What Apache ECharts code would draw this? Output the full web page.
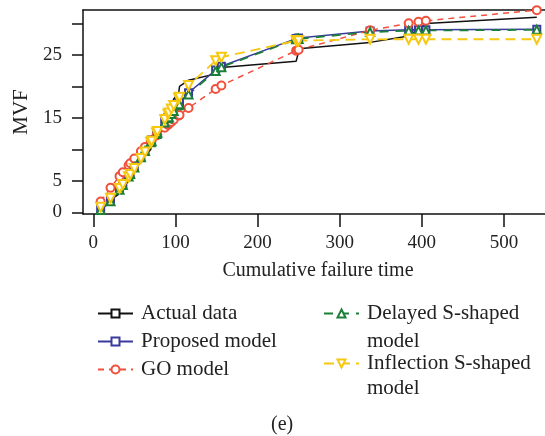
<!DOCTYPE html>
<html>
<head>
<meta charset="utf-8">
<script src="https://cdn.jsdelivr.net/npm/echarts@6/dist/echarts.min.js"></script>
<style>html,body{margin:0;padding:0;background:#fff}#c{width:545px;height:436px}</style>
</head>
<body>
<div id="c"></div>
<script>
const times = [9, 21, 32, 36, 43, 45, 50, 58, 63, 70, 71, 77, 78, 87, 91, 92, 95, 98, 104, 105, 116, 149, 156, 247, 249, 250, 337, 384, 396, 405, 540];
const actualData = [1, 2, 3, 4, 5, 6, 7, 8, 9, 10, 11, 12, 13, 14, 15, 16, 17, 18, 19, 20, 21, 22, 23, 24, 25, 26, 27, 28, 29, 30, 31];
const proposedModel = [0.6, 2.1, 3.9, 4.6, 5.9, 6.3, 7.3, 8.9, 9.9, 11.3, 11.5, 12.6, 12.8, 14.4, 15.1, 15.3, 15.8, 16.3, 17.3, 17.5, 19.0, 22.6, 23.2, 27.6, 27.6, 27.7, 28.8, 29.0, 29.0, 29.0, 29.1];
const goModel = [1.74, 3.91, 5.77, 6.40, 7.51, 7.81, 8.55, 9.71, 10.41, 11.33, 11.46, 12.23, 12.35, 13.45, 13.91, 14.04, 14.37, 14.71, 15.38, 15.47, 16.59, 19.60, 20.16, 25.69, 25.79, 25.83, 28.91, 30.03, 30.26, 30.43, 32.12];
const delayedS = [0.38, 1.77, 3.61, 4.36, 5.72, 6.12, 7.13, 8.75, 9.75, 11.13, 11.32, 12.46, 12.65, 14.27, 14.95, 15.13, 15.62, 16.10, 17.04, 17.19, 18.74, 22.45, 23.07, 27.49, 27.53, 27.55, 28.64, 28.84, 28.87, 28.89, 28.99];
const inflectionS = [0.85, 2.25, 3.82, 4.46, 5.66, 6.02, 6.97, 8.57, 9.61, 11.11, 11.32, 12.62, 12.84, 14.76, 15.59, 15.79, 16.41, 17.0, 18.12, 18.30, 20.16, 24.10, 24.65, 27.26, 27.27, 27.27, 27.49, 27.5, 27.5, 27.5, 27.5];
const xTicks = [0, 100, 200, 300, 400, 500];
const yTicks = [0, 5, 10, 15, 20, 25, 30];
const yLabels = [0, 5, 15, 25];
const seriesNames = ['Actual data', 'Proposed model', 'GO model', 'Delayed S-shaped', 'Inflection S-shaped'];

const FONT = '"Liberation Serif", "DejaVu Serif", serif';
const zip = vals => times.map((t, i) => [t, vals[i]]);

const chart = echarts.init(document.getElementById('c'), null, {renderer: 'canvas'});
const legendText = {fontFamily: FONT, fontSize: 21, color: '#222', padding: [0, 0, 0, 3]};
chart.setOption({
  animation: false,
  grid: {left: 83, top: 10, right: 0, bottom: 222, containLabel: false},
  xAxis: [{
    type: 'value', min: -12.5, max: 550, position: 'bottom',
    name: 'Cumulative failure time', nameLocation: 'middle', nameGap: 47,
    nameTextStyle: {fontFamily: FONT, fontSize: 20, color: '#222', padding: [0, 0, 0, 8]},
    axisLine: {show: true, onZero: false, lineStyle: {color: '#111', width: 1.5}},
    axisTick: {show: true, inside: false, length: 13, customValues: xTicks, lineStyle: {color: '#111', width: 1.5}},
    axisLabel: {customValues: xTicks, margin: 20, fontFamily: FONT, fontSize: 19, color: '#222'},
    splitLine: {show: false}
  }, {
    type: 'value', min: -12.5, max: 550, position: 'top',
    axisLine: {show: true, onZero: false, lineStyle: {color: '#111', width: 1.5}},
    axisTick: {show: false}, axisLabel: {show: false}, splitLine: {show: false}
  }],
  yAxis: {
    type: 'value', min: -0.24, max: 32.14,
    name: 'MVF', nameLocation: 'middle', nameGap: 50, nameRotate: 90,
    nameTextStyle: {fontFamily: FONT, fontSize: 21, color: '#222'},
    axisLine: {show: true, onZero: false, lineStyle: {color: '#111', width: 1.5}},
    axisTick: {show: true, inside: false, length: 11, customValues: yTicks, lineStyle: {color: '#111', width: 1.5}},
    axisLabel: {customValues: yLabels, margin: 21, fontFamily: FONT, fontSize: 19, color: '#222'},
    splitLine: {show: false}
  },
  legend: [{
    data: seriesNames.slice(0, 3), orient: 'vertical', left: 92, top: 298,
    itemWidth: 35, itemHeight: 10, itemGap: 7, textStyle: legendText
  }, {
    data: [seriesNames[3]], orient: 'vertical', left: 318, top: 298,
    itemWidth: 35, itemHeight: 10, textStyle: legendText
  }, {
    data: [seriesNames[4]], orient: 'vertical', left: 318, top: 348,
    itemWidth: 35, itemHeight: 10, textStyle: legendText
  }],
  graphic: [
    {type: 'text', left: 367, top: 331, style: {text: 'model', font: '21px ' + FONT, fill: '#222'}},
    {type: 'text', left: 367, top: 378, style: {text: 'model', font: '21px ' + FONT, fill: '#222'}},
    {type: 'text', left: 271, top: 415, style: {text: '(e)', font: '20px ' + FONT, fill: '#222'}}
  ],
  series: [{
    name: seriesNames[0], type: 'line', data: zip(actualData), showSymbol: false,
    symbol: 'emptyRect', symbolSize: 7, color: '#111',
    lineStyle: {width: 1.5, type: 'solid'}
  }, {
    name: seriesNames[1], type: 'line', data: zip(proposedModel),
    symbol: 'emptyRect', symbolSize: 7, color: '#3a3a9e',
    lineStyle: {width: 1.5, type: 'solid'}, itemStyle: {borderWidth: 1.2}
  }, {
    name: seriesNames[2], type: 'line', data: zip(goModel),
    symbol: 'emptyCircle', symbolSize: 8, color: '#f0503c',
    lineStyle: {width: 1.5, type: [6, 5]}, itemStyle: {borderWidth: 1.2}
  }, {
    name: seriesNames[3], type: 'line', data: zip(delayedS),
    symbol: 'emptyTriangle', symbolSize: 8, color: '#1b7f3a',
    lineStyle: {width: 1.8, type: [9, 7]}, itemStyle: {borderWidth: 1.2}
  }, {
    name: seriesNames[4], type: 'line', data: zip(inflectionS),
    symbol: 'emptyTriangle', symbolRotate: 180, symbolSize: 9, color: '#f7c811',
    lineStyle: {width: 1.8, type: [10, 6]}, itemStyle: {borderWidth: 1.2}
  }]
});
</script>
</body>
</html>
